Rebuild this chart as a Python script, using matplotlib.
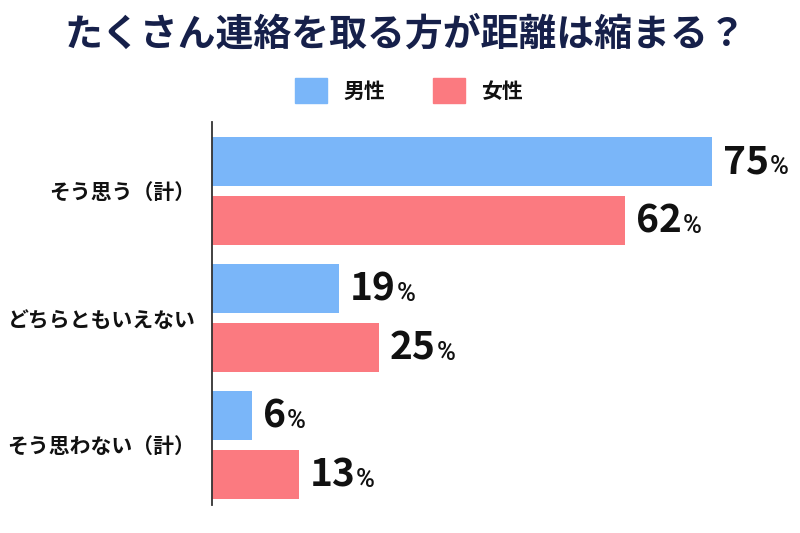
import matplotlib
matplotlib.use("Agg")
import matplotlib.pyplot as plt
from matplotlib.patches import Rectangle

plt.rcParams['font.family'] = ['Noto Sans CJK JP', 'DejaVu Sans']

title = "たくさん連絡を取る方が距離は縮まる？"
categories = ["そう思う（計）", "どちらともいえない", "そう思わない（計）"]
series_names = ["男性", "女性"]
male = [75, 19, 6]
female = [62, 25, 13]

BLUE = "#7ab6f9"
RED = "#fb7a80"
NAVY = "#16204a"

fig = plt.figure(figsize=(8, 5.33), dpi=100)
W, H = 800, 533

# axes: left at x=212px, top at y=122px, bottom at y=505px
ax = fig.add_axes([212 / W, 1 - 505 / H, (W - 212) / W, (505 - 122) / H])
ax.set_xlim(0, 588 / 6.667)
ax.set_ylim(2.47, -0.543)

bh = 0.386
off = 0.232
ys = list(range(len(categories)))
ax.barh([y - off for y in ys], male, height=bh, color=BLUE, zorder=2)
ax.barh([y + off for y in ys], female, height=bh, color=RED, zorder=2)

for spine in ["top", "right", "bottom"]:
    ax.spines[spine].set_visible(False)
ax.spines["left"].set_color("#333333")
ax.spines["left"].set_linewidth(1.3)
ax.set_xticks([])
ax.set_yticks(ys)
ax.set_yticklabels(categories, fontsize=15, fontweight="bold", color="#111111")
ax.tick_params(axis="y", length=0, pad=12)

def value_label(v, y):
    t = ax.annotate(f"{v}", xy=(v, y), xytext=(8, 0), textcoords="offset points",
                    ha="left", va="center", fontsize=28, fontweight="bold",
                    color="#111111")
    ax.annotate("%", xy=(1, 0), xycoords=t, xytext=(0.5, 1.5), textcoords="offset points",
                ha="left", va="bottom", fontsize=18.5, fontweight="medium",
                family=["Roboto", "DejaVu Sans"], color="#111111")

for y, v in zip(ys, male):
    value_label(v, y - off)
for y, v in zip(ys, female):
    value_label(v, y + off)

# title
fig.text(405 / W, 1 - 34 / H, title, ha="center", va="center", fontsize=27.3,
         fontweight="bold", color=NAVY)

# legend
for name, color, x0 in zip(series_names, [BLUE, RED], [295, 433]):
    fig.patches.append(Rectangle((x0 / W, 1 - 103 / H), 32 / W, 25 / H,
                                 transform=fig.transFigure, color=color))
    fig.text((x0 + 48) / W, 1 - 91 / H, name, ha="left", va="center",
             fontsize=15, fontweight="bold", color="#111111")

fig.savefig("out.png", dpi=100, facecolor="white")
